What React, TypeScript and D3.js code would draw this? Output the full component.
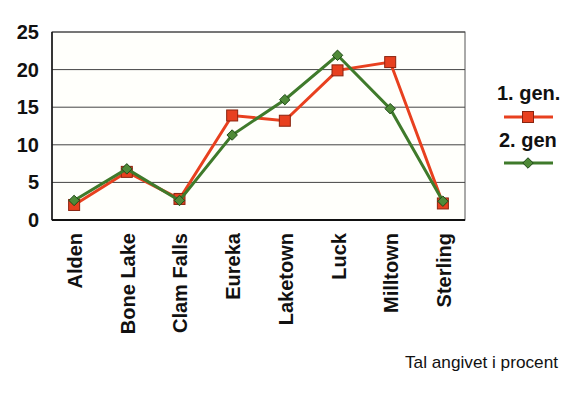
import * as d3 from "d3";
import { useEffect, useRef } from "react";

const categories = ["Alden", "Bone Lake", "Clam Falls", "Eureka", "Laketown", "Luck", "Milltown", "Sterling"];
const gen1 = [2.0, 6.4, 2.8, 13.9, 13.2, 19.9, 21.0, 2.2];
const gen2 = [2.6, 6.8, 2.6, 11.3, 16.0, 21.9, 14.8, 2.5];
const yTicks = [0, 5, 10, 15, 20, 25];
const seriesNames = ["1. gen.", "2. gen"];

export default function App() {
  const ref = useRef<SVGSVGElement>(null);

  useEffect(() => {
    const width = 588,
      height = 396;
    const left = 52,
      right = 465,
      top = 32,
      bottom = 220;
    const red = "#e8401f",
      green = "#3f7a2b";
    const font = "Liberation Sans, Arial, sans-serif";

    const svg = d3.select(ref.current);
    svg.selectAll("*").remove();
    svg.attr("width", width).attr("height", height);

    svg.append("rect").attr("width", width).attr("height", height).attr("fill", "#ffffff");

    const x = d3.scalePoint<string>().domain(categories).range([left, right]).padding(0.42);
    const y = d3.scaleLinear().domain([0, 25]).range([bottom, top]);

    // plot frame
    svg
      .append("rect")
      .attr("x", left)
      .attr("y", top)
      .attr("width", right - left)
      .attr("height", bottom - top)
      .attr("fill", "#fffffb")
      .attr("stroke", "#555");

    // gridlines
    svg
      .selectAll(".grid")
      .data(yTicks.filter((t) => t > 0))
      .join("line")
      .attr("x1", left)
      .attr("x2", right)
      .attr("y1", (d) => y(d))
      .attr("y2", (d) => y(d))
      .attr("stroke", "#444")
      .attr("stroke-width", 1);

    // axes lines
    svg.append("line").attr("x1", left).attr("x2", left).attr("y1", top).attr("y2", bottom).attr("stroke", "#111").attr("stroke-width", 1.5);
    svg.append("line").attr("x1", left).attr("x2", right).attr("y1", bottom).attr("y2", bottom).attr("stroke", "#111").attr("stroke-width", 2);

    // y labels
    svg
      .selectAll(".ylab")
      .data(yTicks)
      .join("text")
      .attr("x", 39)
      .attr("y", (d) => y(d) + 7)
      .attr("text-anchor", "end")
      .attr("font-family", font)
      .attr("font-weight", "bold")
      .attr("font-size", 20)
      .attr("fill", "#111")
      .text((d) => d);

    // x labels
    svg
      .selectAll(".xlab")
      .data(categories)
      .join("text")
      .attr("transform", (d) => `translate(${x(d)! + 8}, 233) rotate(-90)`)
      .attr("text-anchor", "end")
      .attr("font-family", font)
      .attr("font-weight", "bold")
      .attr("font-size", 20)
      .attr("fill", "#111")
      .text((d) => d);

    const line = d3
      .line<number>()
      .x((_, i) => x(categories[i])!)
      .y((d) => y(d));

    const drawSquare = (g: d3.Selection<SVGGElement, unknown, null, undefined>, cx: number, cy: number) =>
      g
        .append("rect")
        .attr("x", cx - 5.5)
        .attr("y", cy - 5.5)
        .attr("width", 11)
        .attr("height", 11)
        .attr("fill", red)
        .attr("stroke", "#8a2410")
        .attr("stroke-width", 1);

    const diamond = d3.symbol().type(d3.symbolDiamond2).size(70);
    const drawDiamond = (g: d3.Selection<SVGGElement, unknown, null, undefined>, cx: number, cy: number) =>
      g
        .append("path")
        .attr("d", diamond()!)
        .attr("transform", `translate(${cx},${cy})`)
        .attr("fill", "#4f8a38")
        .attr("stroke", "#1f4a18")
        .attr("stroke-width", 1);

    // series 1
    const g1 = svg.append("g");
    g1.append("path").datum(gen1).attr("d", line).attr("fill", "none").attr("stroke", red).attr("stroke-width", 3);
    gen1.forEach((v, i) => drawSquare(g1, x(categories[i])!, y(v)));

    // series 2
    const g2 = svg.append("g");
    g2.append("path").datum(gen2).attr("d", line).attr("fill", "none").attr("stroke", green).attr("stroke-width", 3);
    gen2.forEach((v, i) => drawDiamond(g2, x(categories[i])!, y(v)));

    // legend
    const lg = svg.append("g");
    lg.append("text")
      .attr("x", 497)
      .attr("y", 100)
      .attr("font-family", font)
      .attr("font-weight", "bold")
      .attr("font-size", 20)
      .attr("fill", "#111")
      .text(seriesNames[0]);
    lg.append("line").attr("x1", 504).attr("x2", 553).attr("y1", 117).attr("y2", 117).attr("stroke", red).attr("stroke-width", 3);
    drawSquare(lg, 528, 117);
    lg.append("text")
      .attr("x", 499)
      .attr("y", 147)
      .attr("font-family", font)
      .attr("font-weight", "bold")
      .attr("font-size", 20)
      .attr("fill", "#111")
      .text(seriesNames[1]);
    lg.append("line").attr("x1", 504).attr("x2", 553).attr("y1", 163).attr("y2", 163).attr("stroke", green).attr("stroke-width", 3);
    drawDiamond(lg, 528, 163);

    svg
      .append("text")
      .attr("x", 405)
      .attr("y", 368)
      .attr("textLength", 153)
      .attr("lengthAdjust", "spacingAndGlyphs")
      .attr("font-family", font)
      .attr("font-size", 17)
      .attr("fill", "#111")
      .text("Tal angivet i procent");
  }, []);

  return <svg ref={ref} style={{ position: "absolute", left: 0, top: 0 }} />;
}
